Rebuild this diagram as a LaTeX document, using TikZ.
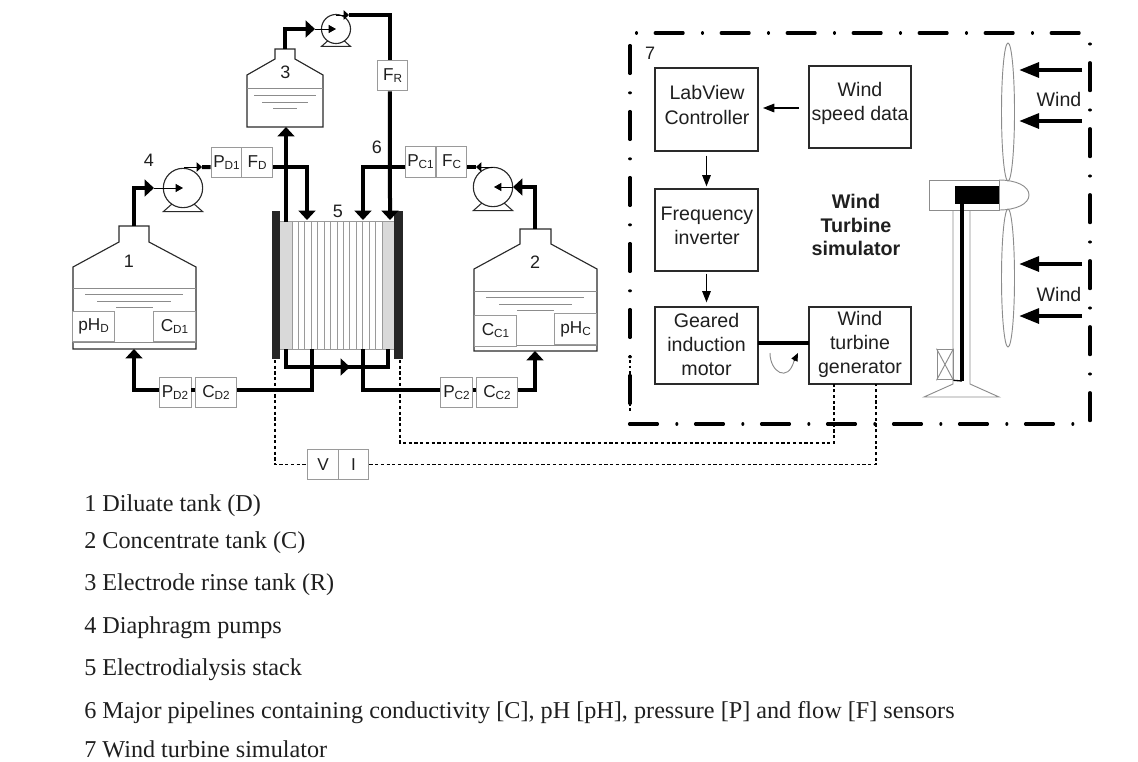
\documentclass[tikz,border=0pt]{standalone}
\usepackage{fontspec}
\setmainfont{Liberation Sans}
\newfontfamily\legendfont{Liberation Serif}
\usetikzlibrary{arrows.meta,calc}
\definecolor{sensorgray}{HTML}{9A9A9A}
\definecolor{tankdark}{HTML}{2A2A2A}
\definecolor{watergray}{HTML}{8C8C8C}
\definecolor{stackgray}{HTML}{D9D9D9}
\definecolor{elecdark}{HTML}{262626}
\newcommand{\sbs}[1]{{\fontsize{8.8pt}{9pt}\selectfont\raisebox{-0.32ex}{#1}}}
\tikzset{
  x=0.75pt,y=-0.75pt,
  every node/.style={text=black!88},
  sensor/.style={draw=sensorgray,line width=0.7pt,fill=white,inner sep=0pt,font=\fontsize{12.9pt}{14pt}\selectfont,minimum height=23pt},
  tankline/.style={draw=tankdark,line width=0.85pt,line join=miter},
  water/.style={draw=watergray,line width=0.7pt},
  pipe/.style={draw=black,line width=3pt,line join=miter},
  pipearrow/.style={pipe,-{Triangle[length=7pt,width=12.5pt]}},
  thinarrow/.style={draw=black,line width=0.7pt,-{Triangle[length=5.5pt,width=6pt]}},
  smallarrow/.style={draw=black,line width=0.7pt,-{Triangle[length=4pt,width=7pt]}},
  ctrlarrow/.style={draw=black,line width=0.8pt,-{Triangle[length=8.5pt,width=6.5pt]}},
  windarrow/.style={draw=black,line width=3pt,-{Triangle[length=15pt,width=11pt]}},
  signal/.style={draw=black,line width=1.25pt,dash pattern=on 2.4pt off 1.9pt},
  block/.style={draw=tankdark,line width=1pt,fill=white,inner sep=0pt},
  blocktext/.style={inner sep=0pt,align=center,font=\fontsize{14.7pt}{18.2pt}\selectfont},
  number/.style={inner sep=0pt,font=\fontsize{13.5pt}{14pt}\selectfont},
  legend/.style={anchor=base west,inner sep=0pt,font=\legendfont\fontsize{18.15pt}{20pt}\selectfont},
  borderA/.style={draw=black,line width=2.3pt,line cap=round,dash pattern=on 21pt off 14.5pt on 0.01pt off 13.99pt},
  borderB/.style={draw=black,line width=2.3pt,line cap=round,dash pattern=on 0.01pt off 13.99pt on 21pt off 14.5pt},
  turb/.style={draw=watergray,line width=0.7pt},
}
\newcommand{\pumpfeet}[3]{\draw[tankline,line width=0.8pt] (#1-0.55*#3,#2+0.8*#3) -- (#1-#3,#2+1.2*#3) -- (#1+#3,#2+1.2*#3) -- (#1+0.55*#3,#2+0.8*#3);}
\begin{document}
\begin{tikzpicture}
\useasboundingbox (0,0) rectangle (1138,761);

% ---------- stack
\fill[stackgray] (280,221) rectangle (292,349);
\fill[stackgray] (382,221) rectangle (395,349);
\foreach \k in {0,...,14}{\draw[draw=sensorgray,line width=0.6pt] (292+6.43*\k,221) -- (292+6.43*\k,349);}
\draw[draw=sensorgray,line width=0.6pt] (280,221) -- (395,221) (280,349) -- (395,349);
\node[fill=elecdark,inner sep=0pt,minimum width=6pt,minimum height=111pt] (elecL) at (276,285) {};
\node[fill=elecdark,inner sep=0pt,minimum width=6.5pt,minimum height=111pt] (elecR) at (398.5,285) {};
\node[number] (n5) at (338,211) {5};

\coordinate (s1t) at (286,222);
\coordinate (s2t) at (307,220);
\coordinate (s3t) at (363,220);
\coordinate (s4t) at (390,220);
\coordinate (s1b) at (286,349);
\coordinate (s2b) at (312,349);
\coordinate (s3b) at (363,349);
\coordinate (s4b) at (388,349);

% ---------- tank 3
\draw[tankline,fill=white] (247,127) -- (247,75) -- (275,59) -- (275,49) -- (295,49) -- (295,59) -- (323,75) -- (323,127) -- cycle;
\draw[water] (247,88) -- (323,88) (254,95) -- (316,95) (262,102) -- (308,102) (273,108) -- (297,108);
\node[number] (n3) at (285.5,72) {3};
\coordinate (t3top) at (285,49);
\coordinate (t3bot) at (286,127);

% ---------- tank 1
\draw[tankline,fill=white] (73,349) -- (73,267) -- (119,242) -- (119,226) -- (149,226) -- (149,242) -- (196,267) -- (196,349) -- cycle;
\draw[water] (73,288) -- (196,288) (85,294) -- (183,294) (97,301) -- (171,301) (116,307) -- (153,307);
\draw[water] (73,342) -- (196,342);
\node[number] (n1) at (129,261) {1};
\node[sensor,minimum width=31pt] (phd) at (93.5,326.5) {pH\sbs{D}};
\node[sensor,minimum width=31pt] (cd1) at (174.5,326.5) {C\sbs{D1}};
\coordinate (t1top) at (134,226);
\coordinate (t1bot) at (134,349);

% ---------- tank 2
\draw[tankline,fill=white] (474,351) -- (474,269) -- (520,244) -- (520,229) -- (551,229) -- (551,244) -- (597,269) -- (597,351) -- cycle;
\draw[water] (474,291) -- (597,291) (486,297) -- (584,297) (499,304) -- (572,304) (517,310) -- (554,310);
\draw[water] (474,345) -- (597,345);
\node[number] (n2) at (535,262.5) {2};
\node[sensor,minimum width=31pt] (cc1) at (495.5,331) {C\sbs{C1}};
\node[sensor,minimum width=31pt] (phc) at (575.5,329) {pH\sbs{C}};
\coordinate (t2top) at (535,229);
\coordinate (t2bot) at (535,351);

% ---------- sensors
\node[sensor,minimum width=23pt] (pd1) at (226.5,162.5) {P\sbs{D1}};
\node[sensor,minimum width=23pt] (fd)  at (257,162.5) {F\sbs{D}};
\node[sensor,minimum width=23pt] (pc1) at (420.5,162) {P\sbs{C1}};
\node[sensor,minimum width=23pt] (fc)  at (451.5,162) {F\sbs{C}};
\node[sensor,minimum width=23pt] (fr)  at (392.5,75.5) {F\sbs{R}};
\node[sensor,minimum width=24pt] (pd2) at (175,392.5) {P\sbs{D2}};
\node[sensor,minimum width=31pt] (cd2) at (216,392.5) {C\sbs{D2}};
\node[sensor,minimum width=23.5pt] (pc2) at (456.5,392.5) {P\sbs{C2}};
\node[sensor,minimum width=31pt] (cc2) at (497,392.5) {C\sbs{C2}};
\node[sensor,minimum width=23pt] (v) at (323,464.5) {V};
\node[sensor,minimum width=23pt] (i) at (353.5,464.5) {I};

% off-centre pipe ports on the sensors
\coordinate (pd1W) at ([yshift=-3.5pt]pd1.west);
\coordinate (fdE)  at ([yshift=-3.5pt]fd.east);
\coordinate (pc1W) at ([yshift=-3.75pt]pc1.west);
\coordinate (fcE)  at ([yshift=-3.75pt]fc.east);
\coordinate (frN)  at ([xshift=-1.9pt]fr.north);
\coordinate (frS)  at ([xshift=-1.9pt]fr.south);
\coordinate (pd2W) at ([yshift=1.9pt]pd2.west);
\coordinate (pd2E) at ([yshift=1.9pt]pd2.east);
\coordinate (cd2W) at ([yshift=1.9pt]cd2.west);
\coordinate (cd2E) at ([yshift=1.9pt]cd2.east);
\coordinate (pc2W) at ([yshift=1.9pt]pc2.west);
\coordinate (pc2E) at ([yshift=1.9pt]pc2.east);
\coordinate (cc2W) at ([yshift=1.9pt]cc2.west);
\coordinate (cc2E) at ([yshift=1.9pt]cc2.east);

% ---------- pumps
\node[draw=tankdark,line width=0.85pt,circle,minimum size=29.5pt,inner sep=0pt] (pump4) at (183,188) {};
\pumpfeet{183}{188}{19.7}
\node[draw=tankdark,line width=0.85pt,circle,minimum size=29.5pt,inner sep=0pt] (pump2) at (493,187) {};
\pumpfeet{493}{187}{19.7}
\node[draw=tankdark,line width=0.85pt,circle,minimum size=21.8pt,inner sep=0pt] (pump3) at (336,29) {};
\pumpfeet{336}{29}{14.5}
\coordinate (p4c) at (183,188);
\coordinate (p2c) at (494,187);
\coordinate (p3c) at (336,29);

% pipes: tank 1 -> pump 4 -> PD1/FD -> stack
\coordinate (j1) at (154,188);
\draw[pipearrow] (t1top) |- (j1);
\draw[thinarrow] (j1) -- (p4c);
\coordinate (o4a) at (184,167);
\coordinate (o4b) at (202,167);
\draw[smallarrow] (o4a) -- (o4b);
\draw[pipe] (o4b) -- (pd1W);
\draw[pipearrow] (fdE) -| (s2t);
\node[number] (n4) at (149,160) {4};

% pipes: stack -> tank 3 -> pump 3 -> FR -> stack
\draw[pipearrow] (s1t) -- (t3bot);
\coordinate (j3) at (315,29);
\draw[pipearrow] (t3top) |- (j3);
\draw[thinarrow] (j3) -- (p3c);
\coordinate (o3a) at (336,15);
\coordinate (o3b) at (349,15);
\draw[smallarrow] (o3a) -- (o3b);
\draw[pipe] (o3b) -| (frN);
\draw[pipearrow] (frS) -- (s4t);
\node[number] (n6) at (377,147) {6};

% pipes: tank 2 -> pump 2 -> stack
\coordinate (j2) at (513,187);
\draw[pipearrow] (t2top) |- (j2);
\draw[thinarrow] (j2) -- (p2c);
\coordinate (o2a) at (493,167);
\coordinate (o2b) at (476,167);
\draw[smallarrow] (o2a) -- (o2b);
\draw[pipe] (o2b) -- (fcE);
\draw[pipearrow] (pc1W) -| (s3t);

% return pipes
\coordinate (m0) at (330,367);
\coordinate (m1) at (350,367);
\coordinate (retR) at (388,367);
\draw[pipe] (s1b) |- (retR) -- (s4b);
\draw[pipearrow] (m0) -- (m1);
\draw[pipe] (s2b) |- (cd2E);
\draw[pipe] (cd2W) -- (pd2E);
\draw[pipearrow] (pd2W) -| (t1bot);
\draw[pipe] (s3b) |- (pc2W);
\draw[pipe] (pc2E) -- (cc2W);
\draw[pipearrow] (cc2E) -| (t2bot);

% ---------- simulator border
\draw[borderB] (636.5,33) -- (1082,33);
\draw[borderA] (630,45.5) -- (630,405);
\draw[black,line width=1.1pt,dash pattern=on 2pt off 2pt] (630,355) -- (630,411);
\draw[borderA] (629.5,424) -- (1076,424);
\draw[borderB] (1090,44) -- (1090,423);

% ---------- blocks
\node[number] (n7) at (650,53) {7};
\node[block,minimum width=77.25pt,minimum height=62.25pt] (lab) at (706.5,109.5) {};
\node[blocktext] (labt) at (707,105) {LabView\\Controller};
\node[block,minimum width=76.5pt,minimum height=61.5pt] (wsd) at (860,107) {};
\node[blocktext] (wsdt) at (860,103.5) {Wind\\speed data};
\node[block,minimum width=77.25pt,minimum height=61.5pt] (inv) at (706.5,230) {};
\node[blocktext] (invt) at (707,226) {Frequency\\inverter};
\node[block,minimum width=77.25pt,minimum height=57.75pt] (mot) at (706.5,345.5) {};
\node[blocktext] (mott) at (706.5,344.5) {Geared\\induction\\motor};
\node[block,minimum width=76.5pt,minimum height=57.75pt] (gen) at (860,345.5) {};
\node[blocktext] (gent) at (860,344.5) {Wind\\turbine\\generator};
\node[inner sep=0pt,align=center,font=\fontsize{14.8pt}{17.6pt}\selectfont\bfseries] (title) at (856,225) {Wind\\Turbine\\simulator};
\coordinate (a1s) at (799,108);
\coordinate (a1e) at (763,108);
\draw[ctrlarrow] (a1s) -- (a1e);
\draw[ctrlarrow] ([yshift=-3pt]lab.south) -- ([yshift=1.5pt]inv.north);
\draw[ctrlarrow] ([yshift=-1.5pt]inv.south) -- ([yshift=3pt]mot.north);
\coordinate (shL) at (758,343);
\coordinate (shR) at (809,343);
\draw[draw=black,line width=3pt] (shL) -- (shR);
\coordinate (c1) at (770,353);
\coordinate (c2) at (798,353);
\coordinate (c3) at (794,361);
\draw[draw=watergray,line width=0.7pt] (c1) .. controls (770,372) and (788,383) .. (c3);
\draw[draw=black,line width=0.7pt,-{Triangle[length=6pt,width=5pt]}] (c3) -- (c2);

% ---------- signal wires
\coordinate (eL) at (275,360);
\coordinate (eR) at (400,360);
\coordinate (g1) at (834,384);
\coordinate (g2) at (876,384);
\coordinate (g1b) at (834,443);
\draw[signal] (eL) |- (v.west);
\draw[signal] (i.east) -| (g2);
\draw[signal] (eR) |- (g1b) -- (g1);

% ---------- turbine
\draw[turb] (953,210) -- (953,384) -- (924,397) -- (999,397) -- (970,384) -- (970,210);
\node[draw=watergray,line width=0.7pt,fill=white,inner sep=0pt,minimum width=52.5pt,minimum height=22.5pt] (nac) at (964,195) {};
\draw[turb] (999,180) .. controls (1016,180) and (1029,186) .. (1029,195) .. controls (1029,204) and (1016,210) .. (999,210);
\draw[turb] (1008,112) ellipse [x radius=6.5,y radius=69];
\draw[turb] (1008,278) ellipse [x radius=6.5,y radius=69];
\node[fill=black,inner sep=0pt,minimum width=33pt,minimum height=13.5pt] (blk) at (977,195) {};
\node[draw=watergray,line width=0.7pt,inner sep=0pt,minimum width=12pt,minimum height=23pt] (brk) at (945,364.5) {};
\draw[turb] (brk.north west) -- (brk.south east) (brk.north east) -- (brk.south west);
\coordinate (twb) at (962,381);
\coordinate (twt) at (962,204);
\draw[draw=black,line width=2.6pt] (twt) -- (twb);
\draw[draw=black,line width=1pt] (twb) -- (brk.south east);

% wind arrows
\coordinate (w1s) at (1082,70);  \coordinate (w1e) at (1019,70);
\coordinate (w2s) at (1082,121); \coordinate (w2e) at (1019,121);
\coordinate (w3s) at (1082,264); \coordinate (w3e) at (1019,264);
\coordinate (w4s) at (1082,316); \coordinate (w4e) at (1019,316);
\foreach \k in {1,2,3,4}{\draw[windarrow] (w\k s) -- (w\k e);}
\node[inner sep=0pt,font=\fontsize{14.7pt}{16pt}\selectfont] (wind1) at (1059,99) {Wind};
\node[inner sep=0pt,font=\fontsize{14.7pt}{16pt}\selectfont] (wind2) at (1059,294) {Wind};

% ---------- legend
\node[legend] (l1) at (84,511.5) {1 Diluate tank (D)};
\node[legend] (l2) at (84,548) {2 Concentrate tank (C)};
\node[legend] (l3) at (84,590.5) {3 Electrode rinse tank (R)};
\node[legend] (l4) at (84,633) {4 Diaphragm pumps};
\node[legend] (l5) at (84,675.5) {5 Electrodialysis stack};
\node[legend] (l6) at (84,718) {6 Major pipelines containing conductivity [C], pH [pH], pressure [P] and flow [F] sensors};
\node[legend] (l7) at (84,757) {7 Wind turbine simulator};
\end{tikzpicture}
\end{document}
